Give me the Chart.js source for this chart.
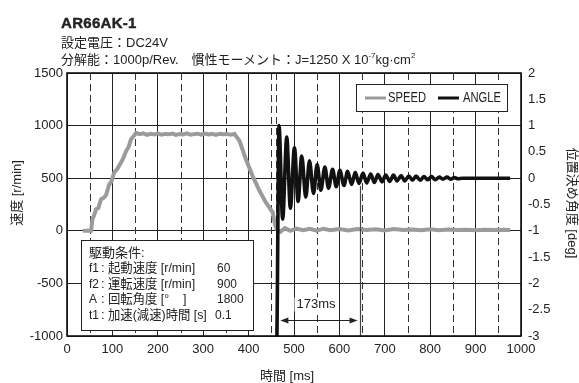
<!DOCTYPE html>
<html lang="ja">
<head>
<meta charset="UTF-8">
<title>AR66AK-1</title>
<script src="https://cdn.jsdelivr.net/npm/chart.js"></script>
<style>
  body { margin: 0; background: #fff; }
  .wrap { position: relative; width: 579px; height: 383px; font-family: "Liberation Sans", "Noto Sans CJK JP", sans-serif; color: #222; }
  canvas { position: absolute; left: 0; top: 0; }
  .head { position: absolute; left: 61px; white-space: nowrap; line-height: 16px; font-size: 13px; }
  #title { top: 14px; font-weight: 900; font-size: 15px; line-height: 18px; letter-spacing: 0.3px; -webkit-text-stroke: 0.4px #222; }
  #line1 { top: 35px; }
  #line2 { top: 52px; }
  sup { font-size: 8px; vertical-align: 6px; line-height: 0; }
</style>
</head>
<body>
<div class="wrap">
  <canvas id="chart" width="579" height="383"></canvas>
  <div class="head" id="title">AR66AK-1</div>
  <div class="head" id="line1">設定電圧：DC24V</div>
  <div class="head" id="line2">分解能：1000p/Rev.　慣性モーメント：J=1250 X 10<sup>-7</sup>kg·cm<sup>2</sup></div>
</div>
<script>
// speed trace [ms] / [r/min]
const speedTimes = [35, 53, 56, 60, 64, 69, 75, 80, 86, 93, 98, 104, 111, 119, 124, 130, 136, 141, 147, 152,
  160, 168, 176, 184, 192, 200, 208, 216, 224, 232, 240, 248, 256, 264, 272, 280, 288, 296, 304, 312, 320, 328, 336, 344, 352, 360, 369,
  380, 394, 409, 424, 438, 453, 458, 462,
  470, 480, 492, 505, 520, 535, 550, 565, 580, 600, 620, 640, 660, 680, 700, 720, 740, 760, 780, 800, 820, 840, 860, 880, 900, 920, 940, 960, 976];
const speedValues = [0, 0, 110, 150, 205, 215, 300, 310, 340, 440, 470, 555, 590, 650, 690, 755, 800, 870, 900, 930,
  918, 926, 912, 922, 915, 927, 913, 921, 917, 925, 911, 920, 916, 926, 914, 919, 923, 913, 924, 916, 921, 912, 923, 917, 921, 914, 920,
  855, 680, 520, 380, 270, 175, 60, 15,
  -10, 25, 0, 22, 5, 18, 2, 20, 6, 16, 3, 18, 8, 14, 4, 16, 7, 12, 5, 14, 6, 12, 8, 11, 6, 10, 7, 9, 8];

// positioning angle [ms] / [deg]
const angleTimes = [455, 462, 467, 475, 484, 492, 501, 509, 517, 526, 534, 543, 551, 559, 568, 576, 585, 593, 601, 610,
  618, 627, 635, 643, 652, 660, 669, 677, 685, 694, 702, 711, 719, 727, 736, 744, 753, 761, 769, 778,
  786, 795, 803, 811, 820, 828, 837, 845, 853, 862, 870, 976];
const angleValues = [-4, -3.2, 1.0, -0.78, 0.78, -0.57, 0.58, -0.44, 0.42, -0.36, 0.33, -0.29, 0.26, -0.23, 0.21, -0.19, 0.17, -0.16, 0.15, -0.14,
  0.13, -0.12, 0.11, -0.10, 0.10, -0.09, 0.08, -0.08, 0.07, -0.07, 0.06, -0.06, 0.06, -0.05, 0.05, -0.05, 0.04, -0.04, 0.04, -0.04,
  0.03, -0.03, 0.03, -0.03, 0.02, -0.02, 0.02, -0.02, 0.01, -0.01, 0, 0];

// drive conditions box
const condTitle = '駆動条件:';
const condKeys = ['f1', 'f2', 'A', 't1'];
const condNames = ['起動速度 [r/min]', '運転速度 [r/min]', '回転角度 [°    ]', '加速(減速)時間 [s]'];
const condValues = ['60', '900', '1800', '0.1'];

// settling time marker
const settleFrom = 470, settleTo = 640, settleLine = 645, markerDash = 461;
const settleText = '173ms';

const FONT = '"Liberation Sans", "Noto Sans CJK JP", sans-serif';
const tickFont = { family: FONT, size: 13 };

// draw text squeezed horizontally (condensed look)
function narrowText(ctx, text, x, y, sx) {
  ctx.save();
  ctx.translate(x, y);
  ctx.scale(sx, 1);
  ctx.fillText(text, 0, 0);
  ctx.restore();
}

const decor = {
  id: 'decor',
  beforeDatasetsDraw(chart) {
    const { ctx, chartArea: a, scales: { x } } = chart;
    ctx.save();
    ctx.strokeStyle = '#333';
    ctx.lineWidth = 1;
    ctx.setLineDash([7, 4]);
    const dashed = [];
    for (let t = 50; t < 1000; t += 100) dashed.push(t);
    dashed.push(markerDash);
    dashed.forEach(t => {
      const px = Math.round(x.getPixelForValue(t)) + 0.5;
      ctx.beginPath(); ctx.moveTo(px, a.top); ctx.lineTo(px, a.bottom); ctx.stroke();
    });
    ctx.restore();
  },
  afterDatasetsDraw(chart) {
    const { ctx, chartArea: a, scales: { x, y2 } } = chart;
    ctx.save();

    // settle line + arrow
    const lx = Math.round(x.getPixelForValue(settleLine)) + 0.5;
    ctx.strokeStyle = '#444'; ctx.lineWidth = 1.2;
    ctx.beginPath(); ctx.moveTo(lx, y2.getPixelForValue(-0.15)); ctx.lineTo(lx, a.bottom); ctx.stroke();
    const ay = Math.round(y2.getPixelForValue(-2.7)) + 0.5;
    const x1 = x.getPixelForValue(settleFrom), x2 = x.getPixelForValue(settleTo);
    ctx.strokeStyle = '#222'; ctx.lineWidth = 1;
    ctx.beginPath(); ctx.moveTo(x1 + 6, ay); ctx.lineTo(x2 - 6, ay); ctx.stroke();
    ctx.fillStyle = '#222';
    ctx.beginPath(); ctx.moveTo(x1, ay); ctx.lineTo(x1 + 8, ay - 3); ctx.lineTo(x1 + 8, ay + 3); ctx.closePath(); ctx.fill();
    ctx.beginPath(); ctx.moveTo(x2, ay); ctx.lineTo(x2 - 8, ay - 3); ctx.lineTo(x2 - 8, ay + 3); ctx.closePath(); ctx.fill();
    ctx.font = '13px ' + FONT;
    ctx.textBaseline = 'middle'; ctx.textAlign = 'center';
    const tx = (x1 + x2) / 2 - 3, ty = y2.getPixelForValue(-2.4);
    const tw = ctx.measureText(settleText).width;
    ctx.fillStyle = '#fff';
    ctx.fillRect(tx - tw / 2 - 2, ty - 7, tw + 4, 14);
    ctx.fillStyle = '#222';
    ctx.fillText(settleText, tx, ty);

    // frame
    ctx.strokeStyle = '#111'; ctx.lineWidth = 1.6;
    ctx.strokeRect(a.left, a.top, a.right - a.left, a.bottom - a.top);

    // legend
    const lgX = a.right - 165, lgY = a.top + 11;
    ctx.fillStyle = '#fff';
    ctx.fillRect(lgX, lgY, 151, 27);
    ctx.strokeStyle = '#222'; ctx.lineWidth = 1;
    ctx.strokeRect(lgX + 0.5, lgY + 0.5, 151, 27);
    ctx.textAlign = 'left';
    ctx.font = '14px ' + FONT;
    const items = [[chart.data.datasets[0], 9, 32], [chart.data.datasets[1], 82, 107]];
    items.forEach(([ds, l0, t0]) => {
      ctx.strokeStyle = ds.borderColor; ctx.lineWidth = Math.min(ds.borderWidth, 3);
      ctx.beginPath(); ctx.moveTo(lgX + l0, lgY + 14); ctx.lineTo(lgX + l0 + 21, lgY + 14); ctx.stroke();
      ctx.fillStyle = '#222';
      narrowText(ctx, ds.label, lgX + t0, lgY + 14.5, 0.8);
    });

    // drive conditions
    const bx = a.left + 14, by = 240, bw = 172, bh = 90;
    ctx.fillStyle = '#fff';
    ctx.fillRect(bx, by, bw, bh);
    ctx.strokeStyle = '#222'; ctx.lineWidth = 1;
    ctx.strokeRect(bx + 0.5, by + 0.5, bw, bh);
    ctx.font = '13px ' + FONT;
    ctx.fillStyle = '#222';
    ctx.fillText(condTitle, bx + 8, by + 13);
    condKeys.forEach((k, i) => {
      const ry = by + 28.5 + i * 15.5;
      narrowText(ctx, k, bx + 8, ry, 0.92);
      ctx.fillText(':', bx + 20, ry);
      narrowText(ctx, condNames[i], bx + 27, ry, 0.95);
      narrowText(ctx, condValues[i], bx + (i === 3 ? 134 : 136), ry, 0.92);
    });

    // axis titles
    ctx.textAlign = 'center';
    ctx.fillText('時間 [ms]', 287, 376);
    ctx.save(); ctx.translate(17, 193); ctx.rotate(-Math.PI / 2);
    ctx.fillText('速度 [r/min]', 0, 0); ctx.restore();
    ctx.save(); ctx.translate(572, 203); ctx.rotate(Math.PI / 2);
    ctx.fillText('位置決め角度 [deg]', 0, 0); ctx.restore();
    ctx.restore();
  }
};

new Chart(document.getElementById('chart'), {
  type: 'line',
  data: {
    datasets: [
      {
        label: 'SPEED',
        data: speedTimes.map((t, i) => ({ x: t, y: speedValues[i] })),
        yAxisID: 'y',
        borderColor: '#9b9b9b',
        borderWidth: 4,
        pointRadius: 0,
        order: 2
      },
      {
        label: 'ANGLE',
        data: angleTimes.map((t, i) => ({ x: t, y: angleValues[i] })),
        yAxisID: 'y2',
        borderColor: '#111',
        borderWidth: 3.6,
        pointRadius: 0,
        cubicInterpolationMode: 'monotone',
        order: 1
      }
    ]
  },
  options: {
    responsive: false,
    animation: false,
    layout: { padding: { top: 73, left: 0, right: 0, bottom: 0 } },
    plugins: { legend: { display: false }, tooltip: { enabled: false } },
    scales: {
      x: {
        type: 'linear', min: 0, max: 1000,
        ticks: { stepSize: 100, font: tickFont, color: '#222', padding: 6, maxRotation: 0, callback: v => String(v) },
        grid: { color: '#222', lineWidth: 1, drawTicks: false },
        border: { display: false },
        afterFit: s => { s.height = 47; }
      },
      y: {
        position: 'left', min: -1000, max: 1500,
        ticks: { stepSize: 500, font: tickFont, color: '#222', padding: 4, callback: v => String(v) },
        grid: { color: '#222', lineWidth: 1, drawTicks: false },
        border: { display: false },
        afterFit: s => { s.width = 67; }
      },
      y2: {
        position: 'right', min: -3, max: 2,
        ticks: { stepSize: 0.5, font: tickFont, color: '#222', padding: 7, callback: v => String(v) },
        grid: { drawOnChartArea: false, drawTicks: false },
        border: { display: false },
        afterFit: s => { s.width = 58; }
      }
    }
  },
  plugins: [decor]
});
</script>
</body>
</html>
